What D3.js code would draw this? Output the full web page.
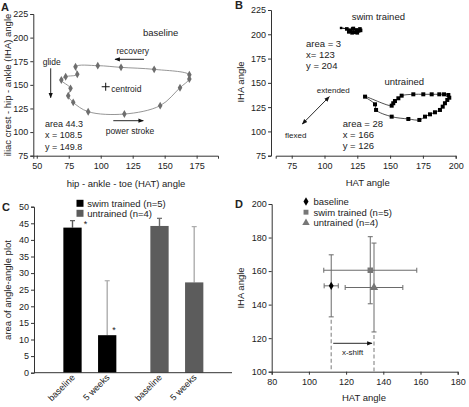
<!DOCTYPE html>
<html><head><meta charset="utf-8">
<script src="https://cdn.jsdelivr.net/npm/d3@7"></script>
<style>
body{margin:0;background:#fff;}
svg text{font-family:"Liberation Sans",Arial,sans-serif;fill:#222;}
</style></head>
<body><svg id="c" width="469" height="407"></svg>
<script>
// ---------- DATA ----------
// Panel A: baseline angle-angle loop
const aHAT = [80.3, 81.7, 72.6, 69.2, 76.4, 74.6, 78.5, 90.2, 118.5, 146.5, 162, 169.3, 169.3, 141.8, 115.9, 97.7];
const aIHA = [169.2, 161.1, 158.6, 155.1, 146.3, 138.5, 131.5, 121.6, 119.1, 128, 147, 156.2, 160.8, 166.4, 168.5, 170.3];
const aCentroid = [103.9, 148];
const aXTicks = [50, 75, 100, 125, 150, 175];
const aYTicks = [75, 100, 125, 150, 175, 200, 225];
// Panel B: swim trained vs untrained loops
const swimHAT = [112.6, 117, 120, 121.5, 123, 124.5, 126, 127, 125, 122, 119, 118.5, 121, 127.5];
const swimIHA = [206.5, 205.5, 203, 205.5, 202, 204.5, 203.5, 205.5, 201.5, 206, 204, 202.5, 201.5, 204];
const untHAT = [130.9, 138.5, 139.3, 151.2, 163.9, 172.3, 176.6, 180.4, 184.2, 188, 190.1, 191.8, 193.6, 195.1, 194.4, 191.1, 187.5, 181.7, 175.3, 167.7, 158.8, 156.3, 153.7, 152.4, 151.2];
const untIHA = [135.8, 127.9, 122.1, 115.2, 112.8, 111.8, 115.2, 117.6, 119.7, 122.1, 125.5, 129, 132.4, 134.7, 137.5, 138.2, 138.2, 138.2, 138.2, 138.2, 136.8, 134.1, 131.3, 129, 126.5];
const bXTicks = [75, 100, 125, 150, 175, 200];
const bYTicks = [75, 100, 125, 150, 175, 200, 225];
// Panel C: area bars
const cGroups = ["swim trained (n=5)", "untrained (n=4)"];
const cTimes = ["baseline", "5 weeks"];
const cMeans = [[43.7, 11.3], [44.2, 27.2]];
const cErrTop = [[45.8, 27.7], [46.5, 44.0]];
const cYTicks = [0, 5, 10, 15, 20, 25, 30, 35, 40, 45, 50];
// Panel D: centroid positions
const dSeries = ["baseline", "swim trained (n=5)", "untrained (n=4)"];
const dHAT = [112, 133, 135];
const dHATsd = [3.8, 25, 15.5];
const dIHA = [151.2, 160.5, 150.2];
const dIHAsd = [18.5, 20, 26.5];
const dXTicks = [80, 100, 120, 140, 160, 180];
const dYTicks = [100, 120, 140, 160, 180, 200];

// ---------- DRAW ----------
const svg = d3.select("#c");
svg.append("rect").attr("width",469).attr("height",407).attr("fill","#fff");
const defs = svg.append("defs");
function mk(id){
  defs.append("marker").attr("id",id).attr("viewBox","0 0 10 10").attr("refX",9).attr("refY",5)
    .attr("markerWidth",6).attr("markerHeight",6).attr("orient","auto-start-reverse")
    .append("path").attr("d","M0,1L10,5L0,9Z").attr("fill","#111");
}
mk("arr");

function styleAxis(g){
  g.selectAll("path.domain").attr("stroke","#333").attr("stroke-width",1);
  g.selectAll(".tick line").attr("stroke","#333");
  g.selectAll(".tick text").attr("font-size","9px").attr("fill","#222")
    .attr("font-family","Liberation Sans, Arial, sans-serif");
}
function txt(x,y,s,size,anchor,extra){
  const t = svg.append("text").attr("x",x).attr("y",y).text(s)
    .attr("font-size",(size||9)+"px").attr("text-anchor",anchor||"start");
  if(extra) extra(t);
  return t;
}
function arrow(x1,y1,x2,y2,both){
  const l = svg.append("line").attr("x1",x1).attr("y1",y1).attr("x2",x2).attr("y2",y2)
    .attr("stroke","#111").attr("stroke-width",0.9).attr("marker-end","url(#arr)");
  if(both) l.attr("marker-start","url(#arr)");
}

// ===== Panel A =====
const ax = d3.scaleLinear().domain([47.3, 191.7]).range([33.3, 218]);
const ay = d3.scaleLinear().domain([75, 225]).range([155.7, 14]);
svg.append("g").attr("transform","translate(0,155.7)")
  .call(d3.axisBottom(ax).tickValues(aXTicks).tickSizeOuter(0).tickSize(3).tickPadding(4)).call(styleAxis);
svg.append("g").attr("transform","translate(33.3,0)")
  .call(d3.axisLeft(ay).tickValues(aYTicks).tickSizeOuter(0).tickSize(3).tickPadding(2)).call(styleAxis);
const aPts = aHAT.map((v,i)=>[ax(v), ay(aIHA[i])]);
svg.append("path").attr("d", d3.line().curve(d3.curveCatmullRomClosed.alpha(0.5))(aPts))
  .attr("fill","none").attr("stroke","#8a8a8a").attr("stroke-width",0.9);
svg.append("g").selectAll("path").data(aPts).join("path")
  .attr("transform",d=>`translate(${d[0]},${d[1]})`)
  .attr("d", d3.symbol(d3.symbolDiamond, 18)).attr("fill","#6e6e6e");
// centroid
const cx0 = ax(aCentroid[0]), cy0 = ay(aCentroid[1]);
svg.append("path").attr("d",`M${cx0-4},${cy0}H${cx0+4}M${cx0},${cy0-4}V${cy0+4}`).attr("stroke","#111").attr("stroke-width",1);
txt(cx0+5.5, cy0+5, "centroid", 8.5);
txt(160.7, 35.5, "baseline", 9.5, "middle");
txt(132.7, 53.5, "recovery", 8.5, "middle");
arrow(144, 59.3, 115, 59.3);
txt(51.7, 65, "glide", 8.5, "middle");
arrow(50.7, 68.3, 50.7, 97.7);
txt(130, 133.5, "power stroke", 8.5, "middle");
arrow(113.3, 120.7, 143.3, 120.7);
txt(45, 126.5, "area 44.3", 9);
txt(45, 138.2, "x = 108.5", 9);
txt(45, 149.5, "y = 149.8", 9);
txt(126, 187, "hip - ankle - toe (HAT) angle", 9.5, "middle");
txt(0,0,"iliac crest - hip - ankle (IHA) angle",9.5,"middle",t=>t.attr("transform","translate(11,85) rotate(-90)"));
txt(1, 11, "A", 11, "start", t=>t.attr("font-weight","bold").attr("fill","#000"));

// ===== Panel B =====
const bx = d3.scaleLinear().domain([62.8, 200]).range([275.7, 455.7]);
const by = d3.scaleLinear().domain([75, 225]).range([155.7, 10]);
svg.append("g").attr("transform","translate(0,155.7)")
  .call(d3.axisBottom(bx).tickValues(bXTicks).tickSizeOuter(0).tickSize(3).tickPadding(4)).call(styleAxis);
svg.append("g").attr("transform","translate(271,0)")
  .call(d3.axisLeft(by).tickValues(bYTicks).tickSizeOuter(0).tickSize(3).tickPadding(2)).call(styleAxis);
const sPts = swimHAT.map((v,i)=>[bx(v), by(swimIHA[i])]);
svg.append("path").attr("d", d3.line().curve(d3.curveLinearClosed)(sPts))
  .attr("fill","none").attr("stroke","#111").attr("stroke-width",0.8);
svg.append("g").selectAll("rect").data(sPts).join("rect")
  .attr("x",(d,i)=>d[0]-(i?1.8:1.2)).attr("y",(d,i)=>d[1]-(i?1.8:1.2))
  .attr("width",(d,i)=>i?3.6:2.4).attr("height",(d,i)=>i?3.6:2.4).attr("fill","#000");
const uPts = untHAT.map((v,i)=>[bx(v), by(untIHA[i])]);
svg.append("path").attr("d", d3.line().curve(d3.curveCatmullRomClosed.alpha(0.5))(uPts))
  .attr("fill","none").attr("stroke","#222").attr("stroke-width",0.8);
svg.append("g").selectAll("rect").data(uPts).join("rect")
  .attr("x",d=>d[0]-2).attr("y",d=>d[1]-2).attr("width",4).attr("height",4).attr("fill","#000");
txt(378.3, 19.5, "swim trained", 9.5, "middle");
txt(306, 46.5, "area = 3", 9.5);
txt(306, 57.5, "x= 123", 9.5);
txt(306, 69, "y = 204", 9.5);
txt(404.3, 85, "untrained", 9.5, "middle");
txt(333.3, 93, "extended", 8, "middle");
txt(295.7, 138, "flexed", 8, "middle");
arrow(329.3, 96.7, 302.3, 124, true);
txt(342.7, 126.5, "area = 28", 9.5);
txt(342.7, 137.5, "x = 166", 9.5);
txt(342.7, 149, "y = 126", 9.5);
txt(367.7, 186, "HAT angle", 9.5, "middle");
txt(0,0,"IHA angle",9.5,"middle",t=>t.attr("transform","translate(244,82) rotate(-90)"));
txt(235, 9, "B", 11, "start", t=>t.attr("font-weight","bold").attr("fill","#000"));

// ===== Panel C =====
const cy = d3.scaleLinear().domain([0, 50]).range([372.7, 206.7]);
const gx = d3.scaleBand().domain(cGroups).range([46.35, 220.35]);
const ix = d3.scaleBand().domain(cTimes).range([0, gx.bandwidth()]).paddingInner(0.473).paddingOuter(0.49);
const cColors = ["#000000", "#5c5c5c"];
const errCols = [["#5a5a5a","#adadad"],["#6a6a6a","#adadad"]];
cGroups.forEach((g,gi)=>{
  cTimes.forEach((t,ti)=>{
    const x0 = gx(g)+ix(t), w = ix.bandwidth(), xc = x0+w/2;
    svg.append("line").attr("x1",xc).attr("x2",xc).attr("y1",cy(cMeans[gi][ti])).attr("y2",cy(cErrTop[gi][ti]))
      .attr("stroke",errCols[gi][ti]).attr("stroke-width",1.4);
    svg.append("line").attr("x1",xc-2.5).attr("x2",xc+2.5).attr("y1",cy(cErrTop[gi][ti])).attr("y2",cy(cErrTop[gi][ti]))
      .attr("stroke",errCols[gi][ti]).attr("stroke-width",1.2);
    svg.append("rect").attr("x",x0).attr("y",cy(cMeans[gi][ti])).attr("width",w)
      .attr("height",cy(0)-cy(cMeans[gi][ti])).attr("fill",cColors[gi]);
    txt(0,0,t,9,"end",tt=>tt.attr("transform",`translate(${xc+3},${378}) rotate(-45)`));
  });
});
svg.append("g").attr("transform","translate(34,0)")
  .call(d3.axisLeft(cy).tickValues(cYTicks).tickSizeOuter(0).tickSize(3).tickPadding(2)).call(styleAxis);
svg.append("line").attr("x1",34).attr("x2",232).attr("y1",372.7).attr("y2",372.7).attr("stroke","#333");
txt(gx(cGroups[0])+ix(cTimes[0])+ix.bandwidth()+2, cy(cErrTop[0][0])+6, "*", 9);
txt(gx(cGroups[0])+ix(cTimes[1])+ix.bandwidth()-4, cy(cMeans[0][1])-2, "*", 9);
cGroups.forEach((g,gi)=>{
  svg.append("rect").attr("x",76.5).attr("y",199.8+gi*10).attr("width",7).attr("height",7).attr("fill",cColors[gi]);
  txt(87.3, 207+gi*10, g, 9.5);
});
txt(0,0,"area of angle-angle plot",9.5,"middle",t=>t.attr("transform","translate(11,290) rotate(-90)"));
txt(2, 211, "C", 11, "start", t=>t.attr("font-weight","bold").attr("fill","#000"));

// ===== Panel D =====
const dx = d3.scaleLinear().domain([80, 180]).range([271.7, 457.7]);
const dy = d3.scaleLinear().domain([100, 200]).range([371.7, 204]);
svg.append("g").attr("transform","translate(0,371.7)")
  .call(d3.axisBottom(dx).tickValues(dXTicks).tickSizeOuter(0).tickSize(3).tickPadding(4)).call(styleAxis);
svg.append("g").attr("transform","translate(271.7,0)")
  .call(d3.axisLeft(dy).tickValues(dYTicks).tickSizeOuter(0).tickSize(3).tickPadding(2)).call(styleAxis);
// dashed guide lines
[0,2].forEach(i=>{
  svg.append("line").attr("x1",dx(dHAT[i])).attr("x2",dx(dHAT[i]))
    .attr("y1",dy(dIHA[i]-dIHAsd[i])+3).attr("y2",dy(100))
    .attr("stroke","#999").attr("stroke-width",1.3).attr("stroke-dasharray","4,2.5");
});
const dCols = ["#000","#777","#777"];
const dSyms = [d3.symbolDiamond, d3.symbolSquare, d3.symbolTriangle];
dSeries.forEach((s,i)=>{
  const X = dx(dHAT[i]), Y = dy(dIHA[i]);
  const xl = dx(dHAT[i]-dHATsd[i]), xr = dx(dHAT[i]+dHATsd[i]);
  const yt = dy(dIHA[i]+dIHAsd[i]), yb = dy(dIHA[i]-dIHAsd[i]);
  const g = svg.append("g").attr("stroke","#6a6a6a").attr("stroke-width",1);
  g.append("line").attr("x1",xl).attr("x2",xr).attr("y1",Y).attr("y2",Y);
  g.append("line").attr("x1",xl).attr("x2",xl).attr("y1",Y-2.5).attr("y2",Y+2.5);
  g.append("line").attr("x1",xr).attr("x2",xr).attr("y1",Y-2.5).attr("y2",Y+2.5);
  g.append("line").attr("x1",X).attr("x2",X).attr("y1",yt).attr("y2",yb);
  g.append("line").attr("x1",X-2.5).attr("x2",X+2.5).attr("y1",yt).attr("y2",yt);
  g.append("line").attr("x1",X-2.5).attr("x2",X+2.5).attr("y1",yb).attr("y2",yb);
  svg.append("path").attr("transform",`translate(${X},${Y})`)
    .attr("d", d3.symbol(dSyms[i], i===0?20:30)).attr("fill",dCols[i]);
  // legend
  svg.append("path").attr("transform",`translate(306,${201.5+i*10.7})`)
    .attr("d", d3.symbol(dSyms[i], i===0?22:24)).attr("fill",dCols[i]);
  txt(313.5, 205+i*10.7, s, 9.5);
});
arrow(dx(dHAT[0])+2, 343.3, dx(dHAT[2])-2, 343.3);
txt((dx(dHAT[0])+dx(dHAT[2]))/2, 355, "x-shift", 8, "middle");
txt(364, 401, "HAT angle", 9.5, "middle");
txt(0,0,"IHA angle",9.5,"middle",t=>t.attr("transform","translate(244,288) rotate(-90)"));
txt(235, 208, "D", 11, "start", t=>t.attr("font-weight","bold").attr("fill","#000"));
</script></body></html>
